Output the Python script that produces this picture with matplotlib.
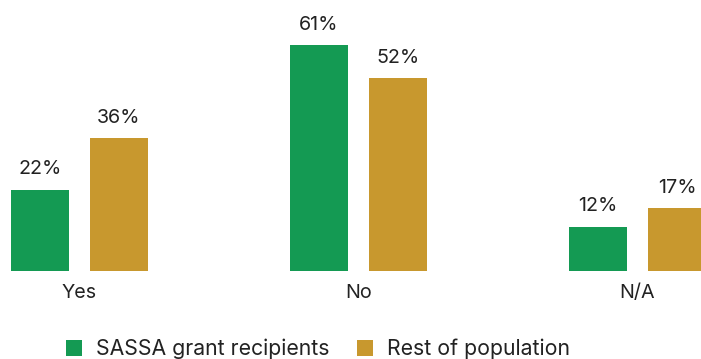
import matplotlib.pyplot as plt
import numpy as np

plt.rcParams['font.family'] = ['Inter', 'DejaVu Sans']

categories = ['Yes', 'No', 'N/A']
sassa = [22, 61, 12]
rest = [36, 52, 17]
series_names = ['SASSA grant recipients', 'Rest of population']
colors = ['#149A53', '#C8982E']
text_color = '#222222'

fig = plt.figure(figsize=(7.01, 3.59), dpi=100)
ax = fig.add_axes([0, 88 / 359, 1, 271 / 359])

x = np.arange(len(categories))
width = 0.208
offset = 0.1416

b1 = ax.bar(x - offset, sassa, width, color=colors[0], label=series_names[0])
b2 = ax.bar(x + offset, rest, width, color=colors[1], label=series_names[1])

for bars, vals in [(b1, sassa), (b2, rest)]:
    for bar, v in zip(bars, vals):
        ax.annotate(f'{v}%', (bar.get_x() + bar.get_width() / 2, v),
                    xytext=(0, 8), textcoords='offset points',
                    ha='center', va='bottom', fontsize=14.2, color=text_color)

ax.set_xlim(-0.285, 2.2276)
ax.set_ylim(0, 73.2)
ax.set_xticks(x)
ax.set_xticklabels(categories, fontsize=14.2, color=text_color)
ax.tick_params(axis='x', length=0, pad=9)
ax.set_yticks([])
for s in ax.spines.values():
    s.set_visible(False)

fig.legend(loc='center', bbox_to_anchor=(318 / 701, 10 / 359), ncol=2, frameon=False,
           fontsize=15.3, handlelength=0.75, handleheight=0.75, handletextpad=0.65,
           columnspacing=1.3, labelcolor=text_color, borderaxespad=0, borderpad=0)

fig.savefig('out.png', dpi=100)
